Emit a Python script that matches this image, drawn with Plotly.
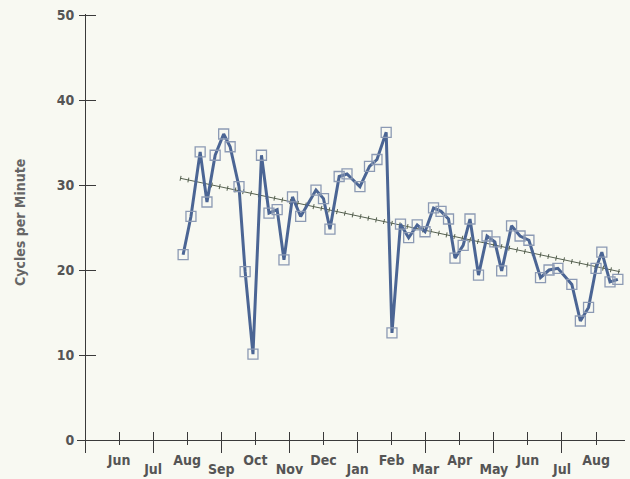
import plotly.graph_objects as go

# x positions in months after the axis origin (1 = Jun, 2 = Jul, ... 15 = Aug)
week_x = [2.88, 3.11, 3.38, 3.58, 3.82, 4.07, 4.26, 4.52, 4.70, 4.93,
          5.18, 5.40, 5.64, 5.84, 6.09, 6.33, 6.78, 7.00, 7.19, 7.46,
          7.69, 8.07, 8.35, 8.57, 8.84, 9.01, 9.26, 9.50, 9.75, 9.98,
          10.23, 10.45, 10.67, 10.86, 11.10, 11.30, 11.55, 11.80, 12.03, 12.23,
          12.52, 12.77, 13.03, 13.37, 13.62, 13.88, 14.29, 14.54, 14.78, 15.00,
          15.17, 15.41, 15.64]
cycles = [21.8, 26.3, 33.9, 28.0, 33.5, 36.0, 34.5, 29.8, 19.8, 10.1,
          33.5, 26.7, 27.1, 21.2, 28.6, 26.3, 29.4, 28.4, 24.8, 31.0,
          31.3, 29.8, 32.2, 33.0, 36.2, 12.6, 25.4, 23.8, 25.3, 24.5,
          27.3, 26.9, 26.0, 21.4, 22.9, 26.0, 19.4, 24.0, 23.3, 19.9,
          25.2, 24.0, 23.5, 19.1, 20.0, 20.2, 18.3, 14.0, 15.6, 20.2,
          22.1, 18.6, 18.9]

trend_x = [2.79, 15.70]
trend_y = [30.8, 19.8]

month_pos = list(range(1, 16))
month_labels = ["Jun", "Jul", "Aug", "Sep", "Oct", "Nov", "Dec", "Jan",
                "Feb", "Mar", "Apr", "May", "Jun", "Jul", "Aug"]
y_ticks = [0, 10, 20, 30, 40, 50]

AX = "#3a3a3a"
TXT = "#555555"
BG = "#f8f9f2"
FONT = "DejaVu Sans Condensed, Liberation Sans Narrow, Roboto, sans-serif"

fig = go.Figure()

fig.add_trace(go.Scatter(x=trend_x, y=trend_y, mode="lines",
                         line=dict(color="#55604f", width=1), hoverinfo="skip"))
fig.add_trace(go.Scatter(x=trend_x, y=trend_y, mode="lines",
                         line=dict(color="#55604f", width=5, dash="1px,7px"),
                         hoverinfo="skip"))
fig.add_trace(go.Scatter(x=week_x, y=cycles, mode="lines+markers",
                         line=dict(color="#4b6594", width=3),
                         marker=dict(symbol="square-open", size=10,
                                     color="#8c9ab4", line=dict(width=1.3))))
# empty traces so the overlay axes are rendered
fig.add_trace(go.Scatter(x=[None], y=[None], xaxis="x2", yaxis="y2",
                         hoverinfo="skip"))
fig.add_trace(go.Scatter(x=[None], y=[None], xaxis="x3", yaxis="y2",
                         hoverinfo="skip"))

xr = [-0.235, 15.85]
yr = [-1.53, 50.12]
xpos = 13 / 439
ypos = 8 / 548

hi_pos = month_pos[0::2]
hi_lab = month_labels[0::2]
lo_pos = month_pos[1::2]
lo_lab = month_labels[1::2]

tickfont = dict(family=FONT, size=14, color=TXT, weight="bold")

common = dict(automargin=False, showgrid=False, zeroline=False, tickcolor=AX)

fig.update_layout(
    width=630, height=479,
    margin=dict(l=77, r=5, t=14, b=26),
    paper_bgcolor=BG, plot_bgcolor=BG,
    showlegend=False,
    xaxis=dict(range=xr, anchor="free", position=xpos, showline=True,
               linecolor=AX, linewidth=1,
               tickvals=hi_pos, ticktext=hi_lab, ticks="outside", ticklen=4,
               tickfont=tickfont, ticklabelstandoff=3, **common),
    xaxis2=dict(range=xr, overlaying="x", anchor="free", position=xpos,
                showline=False,
                tickvals=lo_pos, ticktext=lo_lab, ticks="outside", ticklen=12,
                tickfont=tickfont, ticklabelstandoff=4, **common),
    xaxis3=dict(range=xr, overlaying="x", anchor="free", position=xpos,
                showline=False,
                tickvals=month_pos, ticks="inside", ticklen=8,
                showticklabels=False, **common),
    yaxis=dict(range=yr, anchor="free", position=ypos, showline=True,
               linecolor=AX, linewidth=1,
               tickvals=y_ticks, ticks="outside", ticklen=6,
               tickfont=tickfont, ticklabelstandoff=2, **common),
    yaxis2=dict(range=yr, overlaying="y", anchor="free", position=ypos,
                showline=False,
                tickvals=y_ticks, ticks="inside", ticklen=10,
                showticklabels=False, **common),
    annotations=[dict(text="<b>Cycles per Minute</b>", x=-0.104, y=0.524,
                      xref="paper", yref="paper", textangle=-90,
                      xanchor="center", yanchor="middle",
                      showarrow=False,
                      font=dict(family=FONT, size=14, color="#666666"))],
)

fig.write_html("out.html", config={"displayModeBar": False},
               post_script="document.body.style.margin='0';")
